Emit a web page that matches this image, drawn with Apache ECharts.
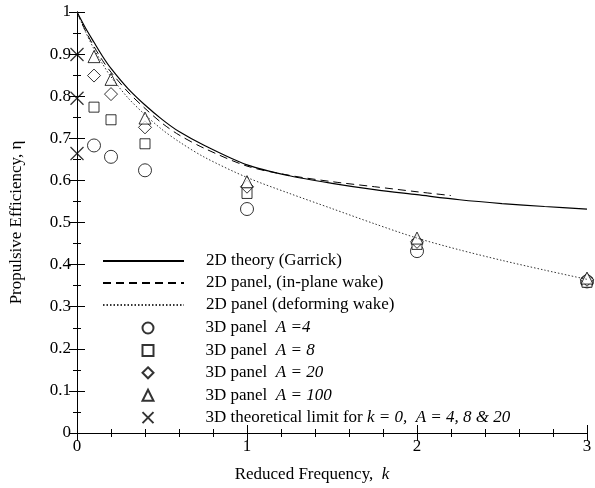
<!DOCTYPE html>
<html>
<head>
    <meta charset="utf-8">
    <script src="https://cdn.jsdelivr.net/npm/echarts@6/dist/echarts.min.js"></script>
</head>
<body style="margin:0">
<div id="main" style="width: 595px;height:488px;"></div>

<script type="text/javascript">
    // curves
    var garrickK = [0, 0.05, 0.1, 0.15, 0.2, 0.3, 0.4, 0.5, 0.6, 0.75, 1, 1.25, 1.5, 1.75, 2, 2.25, 2.5, 2.75, 3];
    var garrickEff = [1, 0.962, 0.928, 0.895, 0.866, 0.818, 0.779, 0.745, 0.716, 0.683, 0.637, 0.611, 0.593, 0.578, 0.566, 0.554, 0.545, 0.538, 0.532];
    var inPlaneK = [0, 0.05, 0.1, 0.15, 0.2, 0.3, 0.4, 0.5, 0.6, 0.75, 1, 1.25, 1.5, 1.75, 2, 2.2];
    var inPlaneEff = [1, 0.955, 0.918, 0.885, 0.857, 0.81, 0.771, 0.736, 0.708, 0.676, 0.634, 0.612, 0.597, 0.585, 0.573, 0.564];
    var deformK = [0, 0.05, 0.1, 0.15, 0.2, 0.3, 0.4, 0.5, 0.6, 0.75, 1, 1.25, 1.5, 1.75, 2, 2.25, 2.5, 2.75, 3];
    var deformEff = [1, 0.953, 0.912, 0.877, 0.846, 0.796, 0.756, 0.721, 0.692, 0.655, 0.607, 0.569, 0.533, 0.497, 0.463, 0.435, 0.41, 0.387, 0.365];

    // 3D panel points
    var panelK = [0.1, 0.2, 0.4, 1, 2, 3];
    var effA4 = [0.683, 0.656, 0.624, 0.532, 0.432, 0.360];
    var effA8 = [0.774, 0.744, 0.687, 0.569, 0.448, 0.358];
    var effA20 = [0.849, 0.805, 0.726, 0.585, 0.454, 0.364];
    var effA100 = [0.894, 0.840, 0.748, 0.597, 0.463, 0.368];
    var limitK = [0, 0, 0];
    var limitEff = [0.899, 0.795, 0.664];

    var font = 'Liberation Serif';

    function pairs(xs, ys) {
        return xs.map(function (x, i) { return [x, ys[i]]; });
    }

    var legendText = {
        'garrick': '{s|}{n|2D theory (Garrick)}',
        'inplane': '{s|}{n|2D panel, (in-plane wake)}',
        'deform': '{s|}{n|2D panel (deforming wake)}',
        'a4': '{w|}{n|3D panel  }{i|A =4}',
        'a8': '{w|}{n|3D panel  }{i|A = 8}',
        'a20': '{w|}{n|3D panel  }{i|A = 20}',
        'a100': '{w|}{n|3D panel  }{i|A = 100}',
        'limit': '{w|}{n|3D theoretical limit for }{i|k = 0,  A = 4, 8 & 20}'
    };

    var hollow = { color: '#fff', borderColor: '#000', borderWidth: 1 };
    var richText = {
        s: { width: 17 },
        w: { width: 47 },
        n: { fontFamily: font, fontSize: 17, color: '#000' },
        i: { fontFamily: font, fontSize: 17, fontStyle: 'italic', color: '#000' }
    };
    var noDot = { opacity: 0 };

    var dom = document.getElementById("main");
    var myChart = echarts.init(dom);
    var option = {
        animation: false,
        backgroundColor: '#fff',
        grid: { left: 77, right: 8, top: 12, bottom: 51 },
        legend: [{
            orient: 'vertical',
            left: 97,
            top: 247,
            itemWidth: 81,
            itemHeight: 12,
            itemGap: 4,
            formatter: function (name) { return legendText[name]; },
            textStyle: { lineHeight: 18, rich: richText },
            data: [
                { name: 'garrick', itemStyle: noDot },
                { name: 'inplane', itemStyle: noDot },
                { name: 'deform', itemStyle: noDot }
            ]
        }, {
            orient: 'vertical',
            left: 135,
            top: 314,
            itemWidth: 11,
            itemHeight: 11,
            itemGap: 4.4,
            formatter: function (name) { return legendText[name]; },
            textStyle: { lineHeight: 18, rich: richText },
            data: ['a4', 'a8', 'a20', 'a100', 'limit']
        }],
        xAxis: [{
            type: 'value', min: 0, max: 3, interval: 1,
            name: '{n|Reduced Frequency,  }{i|k}', nameLocation: 'middle', nameGap: 33,
            nameTextStyle: { padding: [0, 40, 0, 0], rich: { n: richText.n, i: richText.i } },
            axisLine: { lineStyle: { color: '#000', width: 1 } },
            axisTick: { inside: true, length: 8, lineStyle: { color: '#000' } },
            minorTick: { show: true, splitNumber: 5, length: 4, lineStyle: { color: '#000' } },
            axisLabel: { fontFamily: font, fontSize: 17, color: '#000', margin: 5 },
            splitLine: { show: false }
        }, {
            type: 'value', min: 0, max: 3, interval: 1, position: 'top',
            axisLine: { lineStyle: { color: '#000', width: 1 } },
            axisTick: { inside: true, length: 8, lineStyle: { color: '#000' } },
            minorTick: { show: true, splitNumber: 5, length: 4, lineStyle: { color: '#000' } },
            axisLabel: { show: false },
            splitLine: { show: false }
        }],
        yAxis: [{
            type: 'value', min: 0, max: 1, interval: 0.1,
            name: 'Propulsive Efficiency, η', nameLocation: 'middle', nameGap: 52,
            nameTextStyle: { fontFamily: font, fontSize: 17, color: '#000' },
            axisLine: { lineStyle: { color: '#000', width: 1 } },
            axisTick: { inside: true, length: 8, lineStyle: { color: '#000' } },
            minorTick: { show: true, splitNumber: 2, length: 4, lineStyle: { color: '#000' } },
            axisLabel: { fontFamily: font, fontSize: 17, color: '#000', margin: 6 },
            splitLine: { show: false }
        }, {
            type: 'value', min: 0, max: 1, interval: 0.1, position: 'right',
            axisLine: { lineStyle: { color: '#000', width: 1 } },
            axisTick: { inside: true, length: 8, lineStyle: { color: '#000' } },
            minorTick: { show: true, splitNumber: 2, length: 4, lineStyle: { color: '#000' } },
            axisLabel: { show: false },
            splitLine: { show: false }
        }],
        series: [
            { name: 'garrick', type: 'line', data: pairs(garrickK, garrickEff), smooth: 0.3, showSymbol: false, symbol: 'none',
              lineStyle: { color: '#000', width: 1.2 }, itemStyle: { color: '#000' } },
            { name: 'inplane', type: 'line', data: pairs(inPlaneK, inPlaneEff), smooth: 0.3, showSymbol: false, symbol: 'none',
              lineStyle: { color: '#000', width: 1, type: [8, 5] }, itemStyle: { color: '#000' } },
            { name: 'deform', type: 'line', data: pairs(deformK, deformEff), smooth: 0.3, showSymbol: false, symbol: 'none',
              lineStyle: { color: '#333', width: 1, type: [1.5, 2] }, itemStyle: { color: '#333' } },
            { name: 'a4', type: 'scatter', data: pairs(panelK, effA4), symbol: 'circle', symbolSize: 13, clip: false, itemStyle: hollow },
            { name: 'a8', type: 'scatter', data: pairs(panelK, effA8), symbol: 'rect', symbolSize: 10, clip: false, itemStyle: hollow },
            { name: 'a20', type: 'scatter', data: pairs(panelK, effA20), symbol: 'diamond', symbolSize: 13, clip: false, itemStyle: hollow },
            { name: 'a100', type: 'scatter', data: pairs(panelK, effA100), symbol: 'triangle', symbolSize: 12, clip: false, itemStyle: hollow },
            { name: 'limit', type: 'scatter', data: pairs(limitK, limitEff), symbol: 'path://M0,0L10,10M10,0L0,10', symbolSize: 13, clip: false,
              itemStyle: { color: 'none', borderColor: '#000', borderWidth: 1.3 } }
        ]
    };
    myChart.setOption(option);
</script>
</body>
</html>
